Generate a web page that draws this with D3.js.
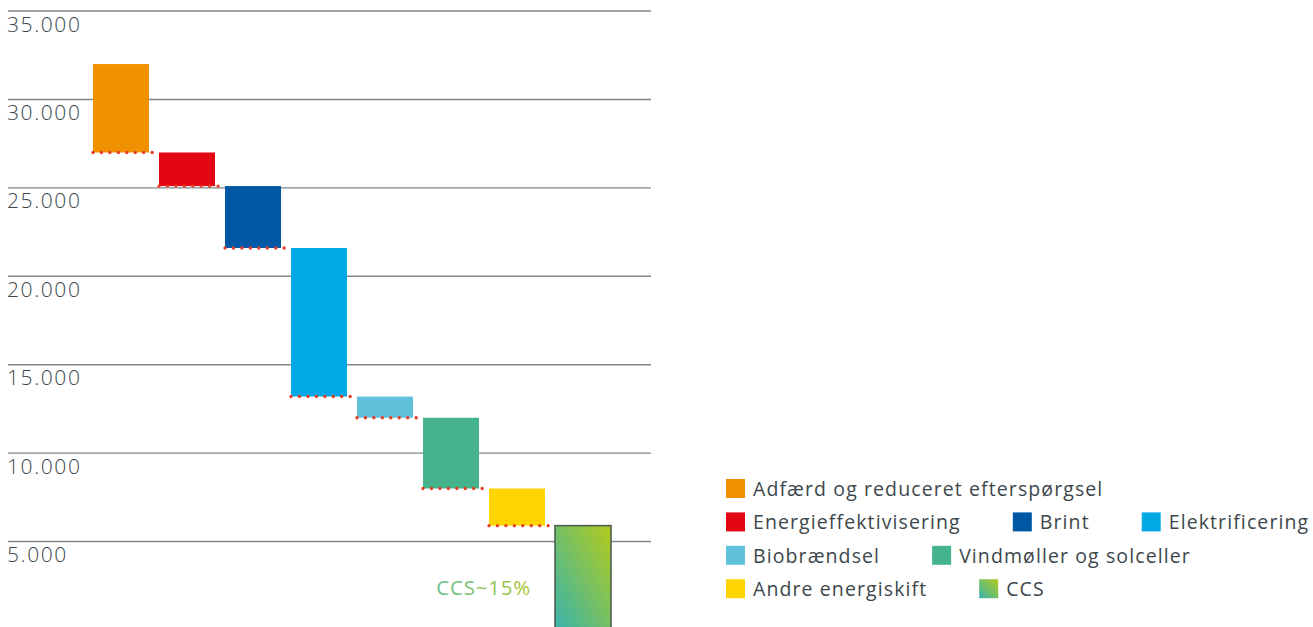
<!DOCTYPE html>
<html>
<head>
<meta charset="utf-8">
<script src="https://cdn.jsdelivr.net/npm/d3@7"></script>
<style>
  html, body { margin: 0; padding: 0; background: #fff; }
  svg { display: block; }
  .tick-label { font-family: "Open Sans", sans-serif; font-weight: 300; font-size: 21px; letter-spacing: 1.6px; fill: #3a464b; }
  .legend-label { font-family: "Open Sans", sans-serif; font-weight: 400; font-size: 19.5px; letter-spacing: 1.1px; fill: #3c474b; }
  .note { font-family: "Open Sans", sans-serif; font-size: 20.5px; letter-spacing: 0.8px; }
</style>
</head>
<body>
<div id="chart"></div>
<script>
// ── Data ─────────────────────────────────────────────
const categories = [
  'Adfærd og reduceret efterspørgsel',
  'Energieffektivisering',
  'Brint',
  'Elektrificering',
  'Biobrændsel',
  'Vindmøller og solceller',
  'Andre energiskift',
  'CCS'
];
const startValue = 32000;
const reductions = [5000, 1900, 3500, 8400, 1200, 4000, 2100, 5900];
const colors = ['#f29100', '#e30613', '#0057a3', '#00a9e6', '#5fc1da', '#45b38d', '#ffd400', 'url(#ccsGrad)'];
const yTicks = [5000, 10000, 15000, 20000, 25000, 30000, 35000];
const legendRows = [[0], [1, 2, 3], [4, 5], [6, 7]];
const ccsNote = 'CCS~15%';

// ── Setup ────────────────────────────────────────────
const W = 1313, H = 627;
const svg = d3.select('#chart').append('svg').attr('width', W).attr('height', H);
const defs = svg.append('defs');

const g1 = defs.append('linearGradient').attr('id', 'ccsGrad')
  .attr('x1', 1).attr('y1', 0).attr('x2', 0).attr('y2', 1);
g1.append('stop').attr('offset', 0).attr('stop-color', '#b3cb1c');
g1.append('stop').attr('offset', 1).attr('stop-color', '#38b4ad');

const g2 = defs.append('linearGradient').attr('id', 'noteGrad')
  .attr('x1', 0).attr('y1', 0).attr('x2', 1).attr('y2', 0);
g2.append('stop').attr('offset', 0).attr('stop-color', '#66be90');
g2.append('stop').attr('offset', 1).attr('stop-color', '#aac82c');

const y = d3.scaleLinear().domain([0, 35000]).range([630, 11]);
const x = d3.scaleBand().domain(categories).range([93, 611]).paddingInner(10 / 66).paddingOuter(0);

// waterfall steps
let level = startValue;
const steps = categories.map((c, i) => {
  const top = level;
  level -= reductions[i];
  return { name: c, top, bottom: level, color: colors[i], i };
});

// ── Grid and tick labels ─────────────────────────────
const grid = svg.append('g');
grid.selectAll('line').data(yTicks).enter().append('line')
  .attr('x1', 8).attr('x2', 651)
  .attr('y1', d => y(d)).attr('y2', d => y(d))
  .attr('stroke', '#7b878b').attr('stroke-width', 1.4);

const fmt = d3.formatLocale({ decimal: ',', thousands: '.', grouping: [3], currency: ['', ''] }).format(',');
grid.selectAll('text').data(yTicks).enter().append('text')
  .attr('class', 'tick-label')
  .attr('x', 7).attr('y', d => y(d) + 20.5)
  .text(d => fmt(d));

// ── Bars ─────────────────────────────────────────────
svg.append('g').selectAll('rect').data(steps).enter().append('rect')
  .attr('x', d => x(d.name))
  .attr('y', d => y(d.top))
  .attr('width', x.bandwidth())
  .attr('height', d => y(d.bottom) - y(d.top))
  .attr('fill', d => d.color)
  .attr('stroke', d => d.name === 'CCS' ? '#4e5f52' : 'none')
  .attr('stroke-width', 1.6);

// ── Dotted connectors ────────────────────────────────
svg.append('g').selectAll('line').data(steps.slice(0, -1)).enter().append('line')
  .attr('x1', d => x(d.name))
  .attr('x2', d => x(categories[d.i + 1]) + 1)
  .attr('y1', d => y(d.bottom)).attr('y2', d => y(d.bottom))
  .attr('stroke', '#e63d26').attr('stroke-width', 3.4)
  .attr('stroke-linecap', 'round').attr('stroke-dasharray', '0 8.45');

// ── CCS note ─────────────────────────────────────────
svg.append('text').attr('class', 'note')
  .attr('x', x('CCS') - 24).attr('y', y(2000))
  .attr('text-anchor', 'end')
  .attr('fill', 'url(#noteGrad)')
  .text(ccsNote);

// ── Legend ───────────────────────────────────────────
const legend = svg.append('g').attr('transform', 'translate(726,479)');
legendRows.forEach((row, r) => {
  let cx = 0;
  row.forEach(ci => {
    const item = legend.append('g').attr('transform', `translate(${cx},${r * 33.4})`);
    item.append('rect').attr('width', 19).attr('height', 19).attr('fill', colors[ci]);
    const t = item.append('text').attr('class', 'legend-label')
      .attr('x', 27).attr('y', 17).text(categories[ci]);
    cx += 27 + t.node().getComputedTextLength() + 52;
  });
});
</script>
</body>
</html>
